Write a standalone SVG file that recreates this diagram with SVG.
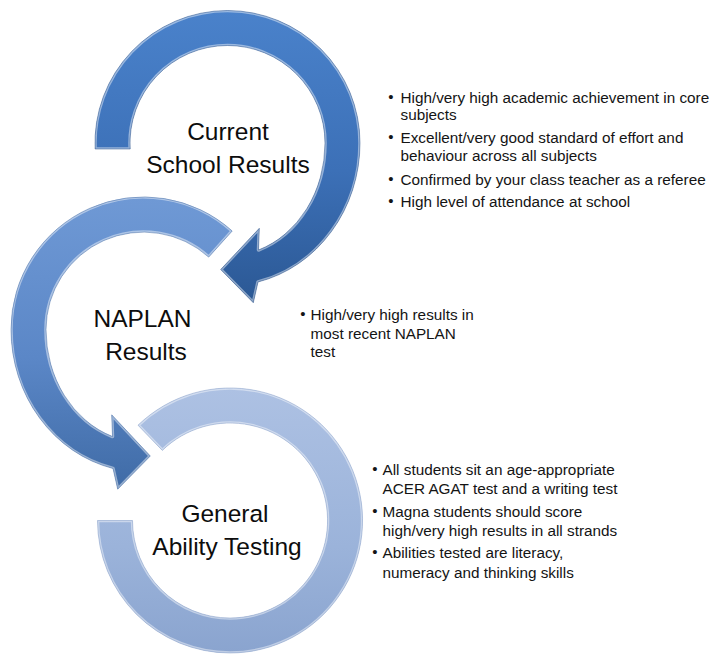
<svg xmlns="http://www.w3.org/2000/svg" xmlns:xlink="http://www.w3.org/1999/xlink" width="716" height="660" viewBox="0 0 716 660">
<style>
.title{font-family:"Liberation Sans",Arial,sans-serif;font-size:24.5px;fill:#0d0d0d;text-anchor:middle}
.bl{font-family:"Liberation Sans",Arial,sans-serif;font-size:15.3px;fill:#141414}
.dot{font-family:"Liberation Sans",Arial,sans-serif;font-size:15px;fill:#141414;text-anchor:middle}
.rim{fill:none;stroke:#ffffff;stroke-width:3.5;stroke-opacity:0.45;stroke-linejoin:round}
.edge{fill:none;stroke-width:0.8;stroke-opacity:0.6}
</style>
<defs>
<linearGradient id="g1" x1="0" y1="0" x2="0" y2="1">
<stop offset="0" stop-color="#4a82cb"/>
<stop offset="0.55" stop-color="#3c70b7"/>
<stop offset="1" stop-color="#2b5894"/>
</linearGradient>
<linearGradient id="g2" x1="0" y1="0" x2="0" y2="1">
<stop offset="0" stop-color="#6f99d5"/>
<stop offset="0.55" stop-color="#5b87c7"/>
<stop offset="1" stop-color="#3f6ba6"/>
</linearGradient>
<linearGradient id="g3" x1="0" y1="0" x2="0" y2="1">
<stop offset="0" stop-color="#adc1e3"/>
<stop offset="0.6" stop-color="#9bb3da"/>
<stop offset="1" stop-color="#8aa4cf"/>
</linearGradient>
<path id="p1" transform="translate(227.5,143)" d="M-132.4,6 A132.5,132.5 0 0 1 0,-132.5 A132.5,132.5 0 0 1 132.5,0 A132.5,143 0 0 1 30.5,139 L25.8,159.7 L-6.8,126.5 L31.8,85.3 L31,107 A97.5,112.7 0 0 0 97.5,0 A97.5,97.5 0 0 0 0,-97.5 A97.5,97.5 0 0 0 -97.3,6 Z"/>
<path id="p2" transform="translate(143.5,329.5) scale(-1,1)" d="M-88.7,-98.5 A132.5,132.5 0 0 1 132.5,0 A132.5,143 0 0 1 30.5,139 L25.8,159.7 L-6.8,126.5 L31.8,85.3 L31,107 A97.5,112.7 0 0 0 97.5,0 A97.5,97.5 0 0 0 -65.2,-72.4 Z"/>
<path id="p3" transform="translate(230,520.5)" d="M-92,-95.3 A132.5,132.5 0 1 1 0,132.5 A132.5,132.5 0 0 1 -132.5,0 L-97.5,0 A97.5,97.5 0 0 0 0,97.5 A97.5,97.5 0 1 0 -67.7,-70.1 Z"/>
<clipPath id="c1"><use xlink:href="#p1"/></clipPath>
<clipPath id="c2"><use xlink:href="#p2"/></clipPath>
<clipPath id="c3"><use xlink:href="#p3"/></clipPath>
</defs>
<rect width="716" height="660" fill="#ffffff"/>
<g id="connectors"></g>
<g id="general-ability-testing">
<use xlink:href="#p3" fill="url(#g3)"/>
<use xlink:href="#p3" class="rim" clip-path="url(#c3)"/>
<use xlink:href="#p3" class="edge" stroke="#7f98c4"/>
<text class="title" x="225" y="522">General</text>
<text class="title" x="227" y="555">Ability Testing</text>
</g>
<g id="naplan-results">
<use xlink:href="#p2" fill="url(#g2)"/>
<use xlink:href="#p2" class="rim" clip-path="url(#c2)"/>
<use xlink:href="#p2" class="edge" stroke="#3f67a0"/>
<text class="title" x="142.5" y="327">NAPLAN</text>
<text class="title" x="146" y="360">Results</text>
</g>
<g id="current-school-results">
<use xlink:href="#p1" fill="url(#g1)"/>
<use xlink:href="#p1" class="rim" clip-path="url(#c1)"/>
<use xlink:href="#p1" class="edge" stroke="#284f85"/>
<text class="title" x="228" y="140">Current</text>
<text class="title" x="228" y="173">School Results</text>
</g>
<g id="current-school-results-criteria">
<text class="dot" x="391" y="102">•</text>
<text class="bl" x="400.5" y="103">High/very high academic achievement in core</text>
<text class="bl" x="400.5" y="120">subjects</text>
<text class="dot" x="391" y="142">•</text>
<text class="bl" x="400.5" y="143">Excellent/very good standard of effort and</text>
<text class="bl" x="400.5" y="161">behaviour across all subjects</text>
<text class="dot" x="391" y="184">•</text>
<text class="bl" x="400.5" y="185">Confirmed by your class teacher as a referee</text>
<text class="dot" x="391" y="206">•</text>
<text class="bl" x="400.5" y="207">High level of attendance at school</text>
</g>
<g id="naplan-results-criteria">
<text class="dot" x="303" y="319">•</text>
<text class="bl" x="310.5" y="320">High/very high results in</text>
<text class="bl" x="310.5" y="338.5">most recent NAPLAN</text>
<text class="bl" x="310.5" y="357">test</text>
</g>
<g id="general-ability-testing-criteria">
<text class="dot" x="375" y="474">•</text>
<text class="bl" x="382.5" y="475">All students sit an age-appropriate</text>
<text class="bl" x="382.5" y="494">ACER AGAT test and a writing test</text>
<text class="dot" x="375" y="516">•</text>
<text class="bl" x="382.5" y="517">Magna students should score</text>
<text class="bl" x="382.5" y="536">high/very high results in all strands</text>
<text class="dot" x="375" y="557">•</text>
<text class="bl" x="382.5" y="558">Abilities tested are literacy,</text>
<text class="bl" x="382.5" y="578">numeracy and thinking skills</text>
</g>
</svg>
